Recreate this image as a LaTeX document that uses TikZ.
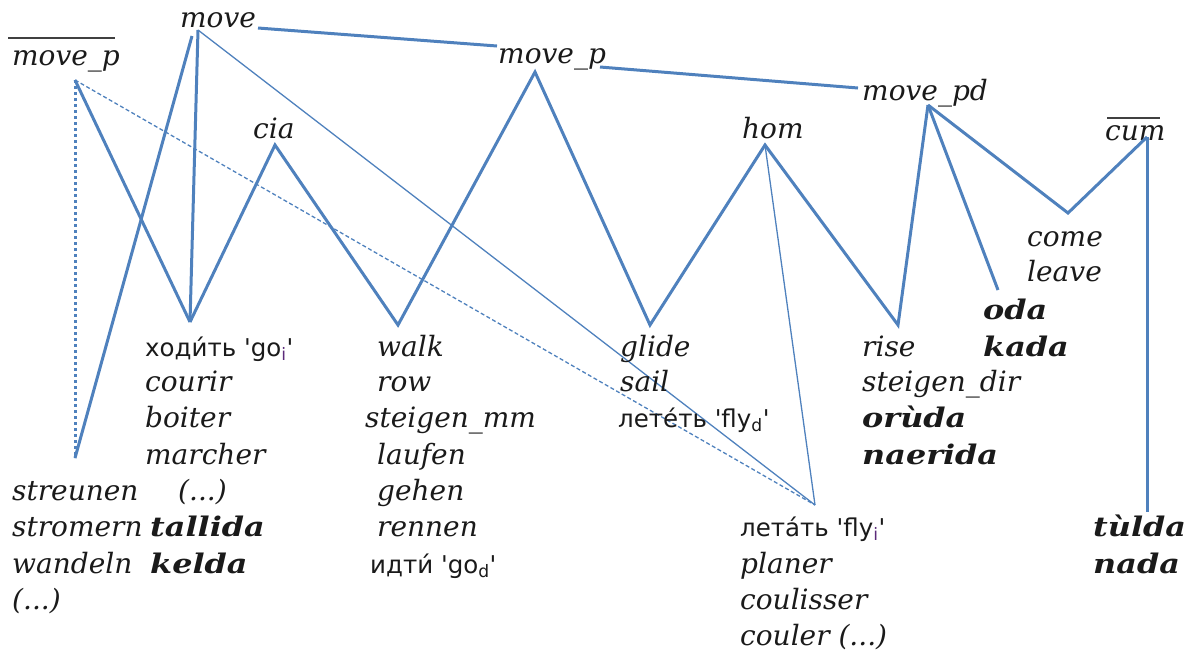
\documentclass[tikz,border=0pt]{standalone}
\usepackage{fontspec}
\setmainfont{DejaVu Serif}
\newfontfamily\cyr{DejaVu Sans}
\newfontfamily\bldfont[FakeStretch=1.18]{DejaVu Serif Bold Italic}
\definecolor{lb}{HTML}{4F81BD}
\definecolor{txt}{HTML}{1A1A1A}
\definecolor{subp}{HTML}{5B2A7A}
\begin{document}
\begin{tikzpicture}[x=1pt,y=-1pt,
  lbl/.style={anchor=base west,inner sep=0pt,text=txt,font=\fontsize{28}{32}\selectfont\itshape},
  bld/.style={lbl,font=\fontsize{27}{32}\selectfont\bldfont},
  cy/.style={lbl,font=\fontsize{24.5}{32}\selectfont\cyr},
  thk/.style={draw=lb,line width=3pt,line join=miter},
  thn/.style={draw=lb,line width=1.3pt},
  dsh/.style={draw=lb,line width=1.3pt,dash pattern=on 4pt off 2.5pt},
  dtt/.style={draw=lb,line width=3pt,dash pattern=on 3pt off 3pt},
  ovl/.style={draw=black!75,line width=1.5pt}]
\useasboundingbox (0,0) rectangle (1202,657);
% top labels
\node[lbl] (tmove) at (180,27) {move};
\node[lbl] (tmovepl) at (12,65) {move\_p};
\node[lbl] (tmovep) at (498,63) {move\_p};
\node[lbl] (tmovepd) at (862,100) {move\_pd};
\node[lbl] (tcia) at (253,138) {cia};
\node[lbl] (thom) at (742,138) {hom};
\node[lbl] (tcum) at (1105,140) {cum};
\draw[ovl] (8,38) -- (115,38);
\draw[ovl] (1107,118) -- (1160,118);
% apex coordinates
\coordinate (move) at (198,30);
\coordinate (move2) at (192,36);
\coordinate (movepl) at (75,80);
\coordinate (movep) at (535,72);
\coordinate (movepd) at (928,105);
\coordinate (cia) at (275,145);
\coordinate (hom) at (765,145);
\coordinate (cum) at (1147,137);
\coordinate (goi) at (190,322);
\coordinate (walk) at (398,325);
\coordinate (glide) at (650,325);
\coordinate (rise) at (898,325);
\coordinate (oda) at (998,290);
\coordinate (come) at (1068,213);
\coordinate (str) at (75,458);
\coordinate (flyi) at (815,505);
\coordinate (tul) at (1147,512);
\coordinate (m1) at (258,28);
\coordinate (m2) at (497,46);
\coordinate (m3) at (600,67);
\coordinate (m4) at (858,88);
% connectors
\draw[thk] (m1) -- (m2);
\draw[thk] (m3) -- (m4);
\draw[thk] (move) -- (goi);
\draw[thk] (move2) -- (str);
\draw[thn] (move) -- (flyi);
\draw[dtt] (movepl) -- (str);
\draw[thk] (movepl) -- (goi);
\draw[dsh] (movepl) -- (flyi);
\draw[thk] (goi) -- (cia) -- (walk) -- (movep) -- (glide) -- (hom) -- (rise) -- (movepd);
\draw[thn] (hom) -- (flyi);
\draw[thk] (movepd) -- (oda);
\draw[thk] (movepd) -- (come) -- (cum);
\draw[thk] (cum) -- (tul);
% text columns
\node[lbl] (come1) at (1027,246) {come};
\node[lbl] (come2) at (1027,281) {leave};
\node[bld] (oda1) at (983,319) {oda};
\node[bld] (oda2) at (983,356) {kada};
\node[cy] (g1) at (145,356) {ходи́ть 'go\textsubscript{\textcolor{subp}{i}}'};
\node[lbl] (g2) at (145,391) {courir};
\node[lbl] (g3) at (145,427) {boiter};
\node[lbl] (g4) at (145,464) {marcher};
\node[lbl] (g5) at (178,500) {(...)};
\node[bld] (g6) at (150,536) {tallida};
\node[bld] (g7) at (150,573) {kelda};
\node[lbl] (s1) at (12,500) {streunen};
\node[lbl] (s2) at (12,536) {stromern};
\node[lbl] (s3) at (12,573) {wandeln};
\node[lbl] (s4) at (12,609) {(...)};
\node[lbl] (w1) at (377,356) {walk};
\node[lbl] (w2) at (377,391) {row};
\node[lbl] (w3) at (365,427) {steigen\_mm};
\node[lbl] (w4) at (377,464) {laufen};
\node[lbl] (w5) at (377,500) {gehen};
\node[lbl] (w6) at (377,536) {rennen};
\node[cy] (w7) at (370,573) {идти́ 'go\textsubscript{d}'};
\node[lbl] (gl1) at (620,356) {glide};
\node[lbl] (gl2) at (620,391) {sail};
\node[cy] (gl3) at (618,427) {лете́ть 'fly\textsubscript{d}'};
\node[lbl] (r1) at (862,356) {rise};
\node[lbl] (r2) at (862,391) {steigen\_dir};
\node[bld] (r3) at (862,427) {orùda};
\node[bld] (r4) at (862,464) {naerida};
\node[cy] (f1) at (740,536) {лета́ть 'fly\textsubscript{\textcolor{subp}{i}}'};
\node[lbl] (f2) at (740,573) {planer};
\node[lbl] (f3) at (740,609) {coulisser};
\node[lbl] (f4) at (740,645) {couler (...)};
\node[bld] (t1) at (1093,536) {tùlda};
\node[bld] (t2) at (1093,573) {nada};
\end{tikzpicture}
\end{document}
